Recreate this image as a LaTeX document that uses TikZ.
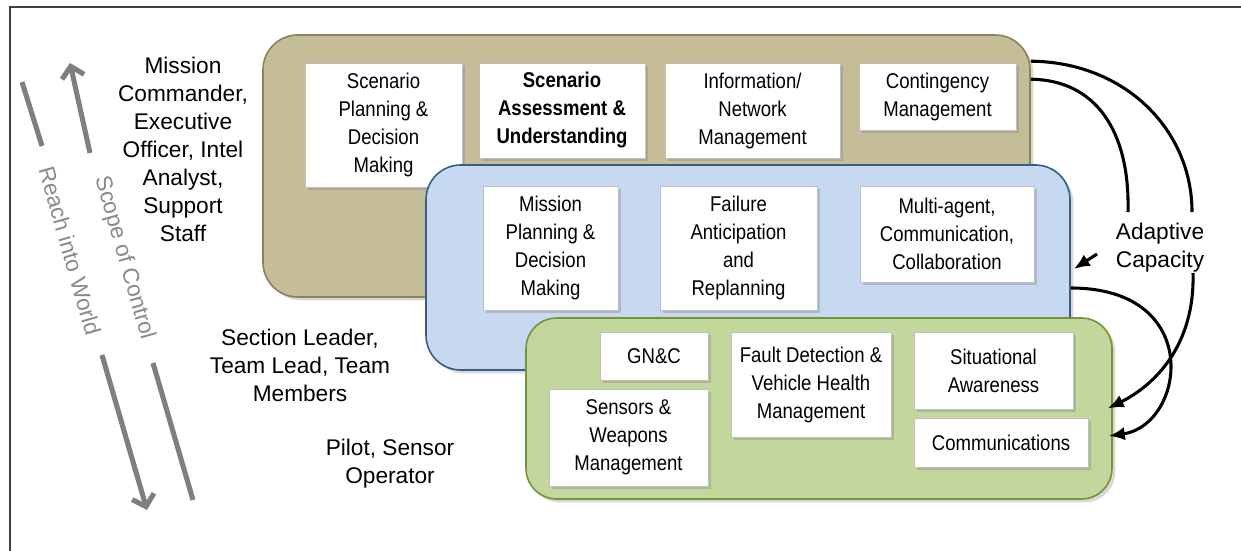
\documentclass[tikz,border=0pt]{standalone}
\usepackage{fontspec}
\setmainfont{Liberation Sans}
\newfontfamily\boxfont[FakeStretch=0.87]{Liberation Sans}
\usetikzlibrary{arrows.meta,shadows,calc}
\definecolor{tanfill}{HTML}{C4BD97}
\definecolor{tanline}{HTML}{8C8458}
\definecolor{bluefill}{HTML}{C6D9F1}
\definecolor{blueline}{HTML}{385D8A}
\definecolor{greenfill}{HTML}{C3D69B}
\definecolor{greenline}{HTML}{77933C}
\definecolor{framecol}{HTML}{404040}
\definecolor{garrowcol}{HTML}{7F7F7F}
\definecolor{sidetext}{HTML}{8A8A8A}
\tikzset{
  wh/.style 2 args={minimum width=#1*0.75pt, minimum height=#2*0.75pt},
  big/.style={rectangle, rounded corners=26pt, line width=1.2pt, inner sep=0pt,
    drop shadow={shadow xshift=2.5pt, shadow yshift=-2.5pt, opacity=.3}},
  ibox/.style={rectangle, draw=black!25, fill=white, line width=0.6pt, align=center,
    inner sep=0pt, font=\boxfont\fontsize{16}{21}\selectfont,
    drop shadow={shadow xshift=2pt, shadow yshift=-2pt, opacity=.35}},
  lbl/.style={align=center, inner sep=0pt, font=\fontsize{17}{21}\selectfont},
  side/.style={text=sidetext, inner sep=0pt, font=\fontsize{17}{21}\selectfont},
  garrow/.style={draw=garrowcol, line width=3.8pt},
  curve/.style={draw=black, line width=2.3pt},
  chead/.style={-{Latex[length=12pt,width=10pt]}}
}
\begin{document}
\begin{tikzpicture}[x=0.75pt,y=-0.75pt]
\useasboundingbox (0,0) rectangle (1241,550);
\fill[white] (0,0) rectangle (1241,550);
% frame
\coordinate (fbl) at (10,552);
\coordinate (ftl) at (10,7);
\coordinate (ftr) at (1243,7);
\draw[framecol, line width=1.5pt] (fbl) -- (ftl) -- (ftr);

% tan layer
\node[big, draw=tanline, fill=tanfill, wh={767}{262}] (tan) at (646.5,166) {};
\node[ibox, wh={157}{124}] (spd) at (383.5,125) {Scenario\\Planning \&\\Decision\\Making};
\node[ibox, wh={166}{95}, font=\boxfont\bfseries\fontsize{16}{21}\selectfont] (saa) at (562,110.5) {Scenario\\Assessment \&\\Understanding};
\node[ibox, wh={175}{95}] (inm) at (752.5,110.5) {Information/\\Network\\Management};
\node[ibox, wh={157}{67}] (cm) at (937.5,96.5) {Contingency\\Management};

% blue layer
\node[big, draw=blueline, fill=bluefill, wh={644}{205}] (blue) at (748,267.5) {};
\node[ibox, wh={135}{124}] (mpd) at (550.5,248) {Mission\\Planning \&\\Decision\\Making};
\node[ibox, wh={157}{124}] (far) at (738.5,248) {Failure\\Anticipation\\and\\Replanning};
\node[ibox, wh={174}{96}] (mac) at (947,234) {Multi-agent,\\Communication,\\Collaboration};

% green layer
\node[big, rounded corners=23pt, draw=greenline, fill=greenfill, wh={586}{181}] (green) at (819,408.5) {};
\node[ibox, wh={108}{48}] (gnc) at (654,356) {GN\&C};
\node[ibox, wh={159}{97}] (swm) at (628.5,437.5) {Sensors \&\\Weapons\\Management};
\node[ibox, wh={160}{105}] (fd) at (811,384.5) {Fault Detection \&\\Vehicle Health\\Management};
\node[ibox, wh={159}{77}] (sa) at (993.5,370.5) {Situational\\Awareness};
\node[ibox, wh={174}{49}] (comm) at (1001,442.5) {Communications};

% left labels
\node[lbl] (mc) at (183,149) {Mission\\Commander,\\Executive\\Officer, Intel\\Analyst,\\Support\\Staff};
\node[lbl] (sl) at (300,365) {Section Leader,\\Team Lead, Team\\Members};
\node[lbl] (po) at (390,463.5) {Pilot, Sensor\\Operator};

% scope / reach arrows
\node[side, rotate=-74] (scope) at (124,258) {Scope of Control};
\node[side, rotate=-74] (reach) at (70,251) {Reach into World};
\coordinate (sc1) at (193,500);
\coordinate (sc2) at (153,363);
\coordinate (sc3) at (90,153);
\coordinate (sc4) at (70,63);
\draw[garrow] (sc1) -- (sc2);
\draw[garrow, -{Straight Barb[length=8pt,width=17pt]}] (sc3) -- (sc4);
\coordinate (rw1) at (22,82);
\coordinate (rw2) at (42,146);
\coordinate (rw3) at (102,355);
\coordinate (rw4) at (147,510);
\draw[garrow] (rw1) -- (rw2);
\draw[garrow, -{Straight Barb[length=8pt,width=17pt]}] (rw3) -- (rw4);

% adaptive capacity
\node[lbl] (ac) at (1160,247.5) {Adaptive\\Capacity};
\draw[curve] ($(tan.north east)+(0,27)$) .. controls (1125,62) and (1192,130) .. ($(ac.center)+(32,-35.5)$);
\draw[curve] ($(tan.north east)+(0,45)$) .. controls (1095,80) and (1130,130) .. ($(ac.center)+(-32,-35.5)$);
\draw[curve, chead] ($(ac.center)+(-63,6.5)$) -- ($(blue.east)+(3,1.5)$);
\draw[curve, chead] ($(ac.center)+(33,25.5)$) .. controls (1195,345) and (1155,385) .. ($(green.east)+(-5,0)$);
\draw[curve, chead] ($(blue.east)+(0,20.5)$) .. controls (1205,288) and (1185,425) .. ($(green.east)+(-4,27.5)$);
\end{tikzpicture}
\end{document}
